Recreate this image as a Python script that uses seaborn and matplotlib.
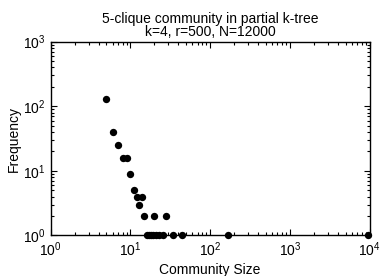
import matplotlib
matplotlib.use("Agg")
import matplotlib.pyplot as plt
import seaborn as sns
import pandas as pd
from matplotlib.ticker import LogLocator, NullFormatter

sizes = [5, 6, 7, 8, 9, 10, 11, 12, 13, 14, 15, 20, 28,
         16, 17, 18, 19, 21, 23, 26, 34, 44, 167, 9600]
freqs = [130, 40, 25, 16, 16, 9, 5, 4, 3, 4, 2, 2, 2,
         1, 1, 1, 1, 1, 1, 1, 1, 1, 1, 1]

sns.set_style("ticks")
plt.rcParams['font.family'] = ['Liberation Sans', 'DejaVu Sans']
plt.rcParams['mathtext.fontset'] = 'custom'
plt.rcParams['mathtext.rm'] = 'Liberation Sans'
plt.rcParams['xtick.direction'] = 'in'
plt.rcParams['ytick.direction'] = 'in'
plt.rcParams['text.color'] = 'black'
plt.rcParams['axes.labelcolor'] = 'black'
plt.rcParams['xtick.color'] = 'black'
plt.rcParams['ytick.color'] = 'black'

df = pd.DataFrame({"size": sizes, "freq": freqs})

fig = plt.figure(figsize=(3.81, 2.76), dpi=100)
ax = fig.add_axes([0.133, 0.147, 0.837, 0.702])
sns.scatterplot(data=df, x="size", y="freq", ax=ax, color="black",
                s=28, edgecolor="black", linewidth=0, clip_on=False, zorder=5)
ax.set_xscale("log")
ax.set_yscale("log")
ax.set_xlim(1, 1e4)
ax.set_ylim(1, 1e3)
ax.xaxis.set_major_locator(LogLocator(base=10, numticks=10))
ax.yaxis.set_major_locator(LogLocator(base=10, numticks=10))
ax.xaxis.set_minor_locator(LogLocator(base=10, subs=range(2, 10), numticks=20))
ax.yaxis.set_minor_locator(LogLocator(base=10, subs=range(2, 10), numticks=20))
ax.xaxis.set_minor_formatter(NullFormatter())
ax.yaxis.set_minor_formatter(NullFormatter())
ax.tick_params(which="both", direction="in", top=True, right=True, labelsize=10,
               color="black", width=0.8, labelcolor="black")
ax.tick_params(which="major", length=4)
ax.tick_params(which="minor", length=2)
for sp in ax.spines.values():
    sp.set_linewidth(1.0)
    sp.set_color("black")
ax.set_xlabel("Community Size", fontsize=10, labelpad=3, color="black")
ax.set_ylabel("Frequency", fontsize=10, labelpad=2, color="black")
ax.set_title("5-clique community in partial k-tree\nk=4, r=500, N=12000",
             fontsize=10, pad=4, linespacing=0.95, color="black")
fig.savefig("out.png", dpi=100)
